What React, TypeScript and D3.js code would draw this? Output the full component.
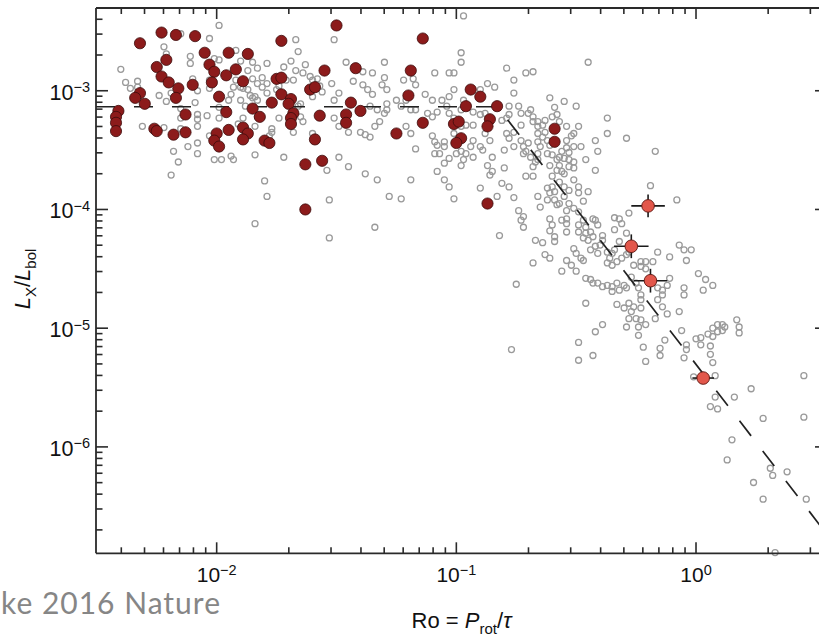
import React from 'react';
import * as d3 from 'd3';

const W = 819;
const H = 638;

// axis limits (Ro and Lx/Lbol)
const xDomain: [number, number] = [3.137e-3, 3.52];
const yDomain: [number, number] = [1.27e-7, 4.977e-3];

// ---- data: [log10 Ro, log10 (Lx/Lbol)] ----
const grayStars: [number, number][] = [
  [-1.99,-2.45],[-2.15,-2.52],[-2.22,-2.63],[-2.03,-2.56],[-2.21,-2.69],[-2.11,-2.71],[-2.11,-2.77],[-2.40,-2.82],[-2.38,-2.93],[-2.33,-2.92],
  [-2.36,-2.98],[-2.33,-2.97],[-2.21,-3.09],[-2.24,-3.04],[-2.19,-3.02],[-2.08,-3.00],[-2.09,-3.10],[-2.10,-2.90],[-2.01,-2.73],[-1.99,-2.74],
  [-1.92,-2.66],[-1.90,-2.75],[-1.85,-2.76],[-1.83,-2.81],[-1.79,-2.77],[-1.87,-2.83],[-1.92,-2.91],[-1.90,-2.97],[-1.93,-2.97],[-1.87,-2.99],
  [-1.83,-2.94],[-1.81,-2.89],[-1.81,-2.97],[-1.85,-3.06],[-1.86,-3.04],[-1.84,-3.05],[-1.90,-3.08],[-1.88,-3.13],[-1.79,-3.02],[-1.79,-2.94],
  [-1.74,-2.96],[-1.75,-2.99],[-1.69,-2.75],[-1.67,-2.57],[-1.66,-2.67],[-1.72,-2.80],[-1.68,-2.91],[-1.67,-2.83],[-1.94,-3.03],[-1.95,-3.08],
  [-2.03,-2.98],[-2.03,-2.91],[-1.99,-3.14],[-1.99,-3.23],[-2.04,-3.21],[-2.08,-3.20],[-2.08,-3.24],[-2.08,-3.30],[-2.15,-3.15],[-2.15,-3.23],
  [-2.15,-3.32],[-2.12,-3.47],[-2.18,-3.51],[-2.16,-3.60],[-2.19,-3.71],[-2.22,-3.31],[-2.31,-3.30],[-2.08,-3.44],[-2.08,-3.53],[-2.03,-3.38],
  [-2.01,-3.58],[-1.98,-3.58],[-1.94,-3.55],[-1.93,-3.58],[-1.84,-3.54],[-1.91,-3.28],[-1.89,-3.23],[-1.84,-3.30],[-1.83,-3.22],[-1.77,-3.32],
  [-1.77,-3.35],[-1.78,-3.38],[-1.72,-3.56],[-1.80,-3.76],[-1.79,-3.89],[-1.74,-3.23],[-1.68,-3.35],[-1.66,-3.13],[-1.71,-2.91],[-1.83,-3.08],
  [-1.85,-2.90],[-1.89,-2.98],[-1.84,-4.12],
  [-0.97,-2.37],[-1.51,-2.57],[-1.63,-2.78],[-1.64,-2.85],[-1.61,-2.88],[-1.60,-2.91],[-1.58,-2.90],[-1.57,-2.96],[-1.56,-3.01],[-1.60,-3.05],
  [-1.65,-3.11],[-1.64,-3.26],[-1.65,-3.22],[-1.60,-3.36],[-1.46,-2.76],[-1.43,-2.92],[-1.39,-2.95],[-1.37,-2.99],[-1.35,-3.03],[-1.39,-2.84],
  [-1.35,-2.85],[-1.30,-2.76],[-1.30,-2.89],[-1.31,-2.95],[-1.29,-2.99],[-1.52,-2.94],[-1.49,-3.02],[-1.51,-3.08],[-1.51,-3.23],[-1.49,-3.30],
  [-1.45,-3.35],[-1.40,-3.35],[-1.38,-3.37],[-1.36,-3.39],[-1.34,-3.30],[-1.32,-3.26],[-1.30,-3.19],[-1.29,-3.16],[-1.33,-3.16],[-1.36,-3.13],
  [-1.29,-3.11],[-1.49,-3.56],[-1.45,-3.64],[-1.54,-3.67],[-1.38,-3.70],[-1.33,-3.75],[-1.53,-3.92],[-1.28,-3.89],[-1.23,-3.91],[-1.19,-3.75],
  [-1.17,-3.49],[-1.25,-3.08],[-1.23,-3.13],[-1.21,-3.08],[-1.19,-3.16],[-1.17,-3.16],[-1.22,-2.91],[-1.18,-2.90],[-1.17,-2.95],[-1.13,-3.03],
  [-1.09,-2.85],[-1.03,-2.85],[-1.01,-2.85],[-0.98,-2.68],[-0.98,-2.76],[-1.10,-3.08],[-1.06,-3.08],[-1.04,-3.13],[-1.08,-3.18],[-1.10,-3.22],
  [-1.12,-3.19],[-1.21,-3.30],[-1.19,-3.36],[-1.10,-3.38],[-1.09,-3.43],[-1.08,-3.46],[-1.05,-3.43],[-1.05,-3.47],[-1.09,-3.53],[-1.07,-3.53],
  [-1.05,-3.61],[-1.03,-3.57],[-1.08,-3.68],[-1.05,-3.75],[-1.03,-3.81],[-1.01,-3.91],[-1.01,-2.99],[-1.03,-3.05],[-0.97,-3.08],[-0.98,-3.16],
  [-0.93,-3.18],[-1.03,-3.19],[-1.01,-3.23],[-0.98,-3.30],[-0.96,-3.29],[-0.93,-3.29],[-1.01,-3.36],[-0.93,-3.42],[-0.94,-3.47],[-0.98,-3.51],
  [-0.96,-3.53],[-0.97,-3.58],[-0.98,-3.63],[-1.00,-3.53],[-0.93,-3.56],[-0.90,-3.20],[-0.88,-3.19],[-0.88,-3.36],[-0.86,-3.42],[-0.90,-3.47],
  [-0.89,-3.50],[-0.85,-3.56],[-0.87,-3.63],[-0.85,-3.68],[-0.86,-3.71],[-0.81,-3.78],[-0.90,-3.82],[-0.83,-3.89],[-0.78,-3.81],[-0.87,-2.94],
  [-0.84,-2.97],[-0.90,-2.99],[-0.79,-2.81],[-0.76,-2.91],[-0.76,-3.02],[-0.78,-3.13],[-0.74,-3.13],[-0.78,-3.20],[-0.79,-3.36],[-0.76,-3.35],
  [-0.78,-3.40],[-0.73,-3.29],[-0.70,-3.19],[-0.68,-3.22],[-0.68,-3.26],[-0.71,-2.85],[-0.68,-2.84],[-0.69,-3.16],[-0.72,-3.47],[-0.71,-3.51],
  [-0.67,-3.60],[-0.62,-3.53],[-0.60,-3.54],[-0.58,-3.58],[-0.55,-3.57],[-0.61,-3.06],[-0.59,-3.14],[-0.55,-3.09],[-0.50,-3.13],[-0.54,-3.30],
  [-0.51,-3.36],[-0.54,-3.42],[-0.51,-3.47],[-0.64,-3.39],[-0.62,-3.42],[-0.66,-3.30],[-0.66,-3.36],[-0.71,-3.72],[-0.66,-3.89],[-0.62,-3.82],
  [-0.61,-3.86],[-0.62,-3.92],[-0.59,-3.85],[-0.60,-3.72],[-0.57,-3.77],[-0.55,-3.81],[-0.53,-3.84],[-0.57,-3.95],[-0.54,-4.01],[-0.51,-3.99],
  [-0.74,-4.01],[-0.72,-4.06],[-0.53,-3.64],
  [-0.45,-2.76],[-0.58,-3.20],[-0.64,-3.29],[-0.63,-3.35],[-0.49,-3.30],[-0.52,-3.38],[-0.48,-3.47],[-0.53,-3.58],[-0.51,-3.60],[-0.57,-3.63],
  [-0.37,-3.23],[-0.37,-3.36],[-0.29,-3.40],[-0.42,-3.42],[-0.41,-3.51],[-0.46,-3.58],[-0.42,-3.67],[-0.17,-3.51],[-0.51,-3.75],[-0.49,-3.81],
  [-0.45,-3.85],[-0.55,-3.89],[-0.47,-3.93],[-0.58,-3.96],[-0.19,-3.80],[-0.08,-3.92],[-0.28,-4.03],[-0.34,-4.07],[-0.32,-4.08],[-0.43,-4.08],
  [-0.54,-4.08],[-0.61,-4.08],
  [-0.54,-3.48],[-0.56,-3.51],[-0.53,-3.52],[-0.51,-3.65],[-0.57,-3.56],[-0.61,-3.63],[-0.58,-3.67],[-0.56,-3.68],[-0.55,-3.70],[-0.61,-3.46],
  [-0.65,-3.47],[-0.66,-3.53],[-0.66,-3.58],[-0.68,-3.64],[-0.68,-3.72],[-0.60,-3.81],[-0.59,-3.92],[-0.49,-3.86],[-0.53,-3.95],[-0.49,-4.02],
  [-0.65,-3.98],[-0.73,-4.09],[-0.72,-4.15],[-0.60,-4.13],[-0.56,-4.09],[-0.54,-4.12],[-0.49,-4.13],[-0.47,-4.09],[-0.42,-4.09],[-0.41,-4.13],
  [-0.76,-3.90],[-0.80,-3.65],[-0.80,-3.50],[-0.81,-3.25],[-0.73,-3.42],[-0.76,-3.47],[-0.72,-3.53],[-0.69,-3.56],[-0.73,-3.19],[-0.79,-3.23],
  [-0.66,-3.26],[-0.70,-3.44],[-0.66,-3.43],[-0.63,-3.25],[-0.60,-3.22],[-0.57,-3.26],
  [-0.46,-4.15],[-0.44,-4.19],[-0.46,-4.20],[-0.43,-4.23],[-0.47,-4.24],[-0.45,-4.26],[-0.49,-4.19],[-0.54,-4.19],[-0.39,-4.22],[-0.39,-4.26],
  [-0.40,-4.30],[-0.42,-4.31],[-0.44,-4.34],[-0.41,-4.37],[-0.37,-4.36],[-0.35,-4.37],[-0.34,-4.34],[-0.36,-4.41],[-0.37,-4.45],[-0.35,-4.47],
  [-0.33,-4.44],[-0.31,-4.41],[-0.29,-4.38],[-0.28,-4.36],[-0.51,-4.33],[-0.50,-4.37],[-0.48,-4.41],[-0.47,-4.43],[-0.52,-4.47],[-0.50,-4.52],
  [-0.56,-4.52],[-0.46,-4.58],[-0.44,-4.59],[-0.43,-4.62],[-0.41,-4.62],[-0.39,-4.65],[-0.37,-4.64],[-0.35,-4.65],[-0.33,-4.62],[-0.30,-4.64],
  [-0.29,-4.66],[-0.32,-4.68],[-0.35,-4.69],[-0.26,-4.47],[-0.23,-4.44],[-0.21,-4.44],[-0.18,-4.44],[-0.23,-4.48],[-0.21,-4.50],[-0.16,-4.36],
  [-0.27,-4.57],[-0.25,-4.62],[-0.24,-4.66],[-0.23,-4.72],[-0.23,-4.76],[-0.16,-4.66],[-0.14,-4.68],[-0.12,-4.64],[-0.11,-4.58],[-0.14,-4.72],
  [-0.16,-4.76],[-0.46,-4.79],[-0.33,-4.80],[-0.30,-4.83],[-0.28,-4.79],[-0.26,-4.82],[-0.23,-4.83],[-0.28,-4.92],[-0.25,-4.92],[-0.23,-4.93],
  [-0.21,-4.97],[-0.29,-4.99],[-0.24,-4.99],[-0.17,-4.92],[-0.12,-4.88],[-0.07,-4.86],[-0.14,-4.82],[-0.07,-4.30],[-0.05,-4.34],[-0.02,-4.34],
  [-0.11,-4.40],[-0.04,-4.43],[0.01,-4.54],[0.04,-4.59],[0.07,-4.64],[0.03,-4.68],[-0.05,-4.66],[-0.05,-4.72],[-0.39,-4.97],
  [-0.34,-4.17],[-0.31,-4.12],[-0.32,-4.27],[-0.29,-4.20],[-0.54,-4.43],
  [-0.61,-4.18],[-0.59,-4.23],[-0.64,-4.28],[-0.59,-4.27],[-0.63,-4.38],[-0.61,-4.41],[-0.67,-4.26],[-0.68,-4.45],[-0.75,-4.63],[-0.82,-4.22],
  [-0.42,-5.03],[-0.49,-5.12],[-0.43,-5.23],[-0.49,-5.27],[-0.27,-4.86],[-0.24,-5.06],[-0.22,-5.16],[-0.21,-5.28],[-0.15,-5.17],[-0.15,-5.23],
  [-0.13,-5.10],[-0.05,-5.25],[-0.04,-5.18],[0.00,-5.09],[0.02,-5.08],[0.02,-5.14],[0.05,-5.05],[0.06,-5.15],[0.07,-5.07],[0.09,-4.97],
  [0.11,-4.97],[0.12,-4.99],[0.07,-5.00],[0.09,-5.03],[0.17,-4.93],[0.18,-4.99],[0.18,-5.04],[0.06,-5.22],[0.07,-5.29],[0.08,-5.40],
  [0.23,-5.51],[0.16,-5.58],[0.08,-5.58],[0.45,-5.40],[-0.01,-5.41],[-0.04,-5.14],[-0.06,-5.02],[0.11,-5.02],[0.06,-5.66],[0.09,-5.68],
  [0.28,-5.76],[0.15,-5.94],[0.13,-6.11],[0.45,-5.75],[0.31,-6.18],[0.32,-6.24],[0.38,-6.21],[0.24,-6.30],[0.28,-6.44],[0.46,-6.44],
  [0.33,-6.89],[-1.53,-4.24],[-1.34,-4.15],[-0.77,-5.18],
];

const fullyConvective: [number, number][] = [
  [-2.32,-2.60],[-2.23,-2.51],[-2.17,-2.53],[-2.09,-2.54],[-2.05,-2.68],[-1.95,-2.68],[-1.87,-2.69],[-1.73,-2.58],[-2.21,-2.74],[-2.25,-2.80],
  [-2.23,-2.88],[-2.20,-2.93],[-2.03,-2.78],[-2.01,-2.84],[-1.96,-2.87],[-1.92,-2.82],[-2.10,-2.95],[-2.16,-2.98],[-2.17,-3.06],[-2.02,-2.93],
  [-1.89,-2.92],[-1.99,-3.05],[-2.32,-3.02],[-2.34,-3.06],[-2.30,-3.11],[-2.41,-3.17],[-2.42,-3.22],[-2.42,-3.27],[-2.42,-3.34],[-2.13,-3.20],
  [-1.96,-3.18],[-1.85,-3.15],[-1.82,-3.22],[-1.77,-3.10],[-1.75,-2.90],[-1.73,-2.89],[-1.73,-3.03],[-1.69,-3.07],[-1.70,-3.11],[-1.68,-3.19],
  [-1.69,-3.23],[-1.69,-3.28],[-2.26,-3.32],[-2.25,-3.34],[-2.18,-3.37],[-2.13,-3.35],[-2.00,-3.36],[-2.01,-3.42],[-1.99,-3.47],[-1.95,-3.33],
  [-1.89,-3.31],[-1.87,-3.36],[-1.89,-3.41],[-1.80,-3.42],[-1.78,-3.44],
  [-1.50,-2.45],[-1.14,-2.56],[-1.55,-2.83],[-1.42,-2.81],[-1.19,-2.83],[-1.61,-2.99],[-1.59,-2.97],[-1.20,-3.04],[-1.44,-3.10],[-1.40,-3.17],
  [-1.57,-3.21],[-1.46,-3.20],[-1.46,-3.27],[-1.25,-3.36],[-1.14,-3.27],[-1.59,-3.41],[-0.94,-2.99],[-0.90,-3.05],[-0.96,-3.13],[-0.83,-3.13],
  [-1.01,-3.28],[-0.99,-3.26],[-0.86,-3.24],[-0.87,-3.30],[-0.98,-3.40],[-1.00,-3.44],[-0.59,-3.32],[-0.59,-3.43],[-1.63,-3.62],[-1.56,-3.59],
  [-0.87,-3.95],[-1.63,-4.00],
];

// slowly rotating fully convective stars: [log Ro, log Lx/Lbol, err log Ro, err log Lx/Lbol]
const slowRotators: [number, number, number, number][] = [
  [-0.20, -3.97, 0.07, 0.095],
  [-0.27, -4.31, 0.072, 0.10],
  [-0.19, -4.60, 0.07, 0.10],
  [0.03, -5.42, 0.045, 0.03],
];

// saturated + unsaturated fit: [log Ro, log Lx/Lbol]
const fitLine: [number, number][] = [
  [-2.5035, -3.135],
  [-0.828, -3.135],
  [0.5465, -6.737],
];

const p10 = (v: number) => Math.pow(10, v);
const FONT = "'Liberation Sans', Arial, Helvetica, sans-serif";

export default function App() {
  const left = 96, right = 827, top = 8, bottom = 553.3;
  const x = d3.scaleLog().domain(xDomain).range([left, right]);
  const y = d3.scaleLog().domain(yDomain).range([bottom, top]);

  const isMajor = (t: number) => Math.abs(Math.log10(t) - Math.round(Math.log10(t))) < 1e-6;
  const xTicks = x.ticks();
  const yTicks = y.ticks();
  const expLabel = (t: number) => {
    const e = Math.round(Math.log10(t));
    return e < 0 ? '\u2212' + (-e) : String(e);
  };

  const line = d3.line<[number, number]>()
    .x(d => x(p10(d[0])))
    .y(d => y(p10(d[1])));

  const axisColor = '#2a2a2a';

  return (
    <svg width={W} height={H} style={{ position: 'absolute', left: 0, top: 0, background: '#fff' }}>
      <rect x={0} y={0} width={W} height={H} fill="#fff" />

      {/* grey stars */}
      <g fill="none" stroke="#9a9a9a" strokeWidth={1.3}>
        {grayStars.map((d, i) => (
          <circle key={i} cx={x(p10(d[0]))} cy={y(p10(d[1]))} r={3} />
        ))}
      </g>

      {/* fit */}
      <path d={line(fitLine) || ''} fill="none" stroke="#222" strokeWidth={1.7} strokeDasharray="19 19" />

      {/* fully convective stars */}
      <g fill="#8c1b1b" stroke="#3c0b0b" strokeWidth={0.8}>
        {fullyConvective.map((d, i) => (
          <circle key={i} cx={x(p10(d[0]))} cy={y(p10(d[1]))} r={5.6} />
        ))}
      </g>

      {/* slow rotators with error bars */}
      <g>
        {slowRotators.map((d, i) => {
          const cx = x(p10(d[0]));
          const cy = y(p10(d[1]));
          return (
            <g key={i}>
              <line x1={x(p10(d[0] - d[2]))} x2={x(p10(d[0] + d[2]))} y1={cy} y2={cy} stroke="#1a1a1a" strokeWidth={1.6} />
              <line x1={cx} x2={cx} y1={y(p10(d[1] - d[3]))} y2={y(p10(d[1] + d[3]))} stroke="#1a1a1a" strokeWidth={1.6} />
              <circle cx={cx} cy={cy} r={6.3} fill="#e2574b" stroke="#5a1510" strokeWidth={0.9} />
            </g>
          );
        })}
      </g>

      {/* frame */}
      <g stroke={axisColor} strokeWidth={1.8} fill="none">
        <line x1={left} x2={left} y1={top} y2={bottom} />
        <line x1={right} x2={right} y1={top} y2={bottom} />
        <line x1={left} x2={right} y1={top} y2={top} />
        <line x1={left} x2={right} y1={bottom} y2={bottom} />
      </g>

      {/* x ticks */}
      <g stroke={axisColor} strokeWidth={1.6}>
        {xTicks.map((t, i) => {
          const L = isMajor(t) ? 11 : 6;
          const px = x(t);
          return (
            <g key={i}>
              <line x1={px} x2={px} y1={bottom} y2={bottom - L} />
              <line x1={px} x2={px} y1={top} y2={top + L} />
            </g>
          );
        })}
      </g>
      {/* y ticks */}
      <g stroke={axisColor} strokeWidth={1.6}>
        {yTicks.map((t, i) => {
          const L = isMajor(t) ? 12 : 6.5;
          const py = y(t);
          return (
            <g key={i}>
              <line x1={left} x2={left + L} y1={py} y2={py} />
              <line x1={right} x2={right - L} y1={py} y2={py} />
            </g>
          );
        })}
      </g>

      {/* x tick labels */}
      <g fontFamily={FONT} fill="#111">
        {xTicks.filter(isMajor).map((t, i) => (
          <text key={i} x={x(t)} y={bottom + 29} textAnchor="middle" fontSize={21}>
            10<tspan dy={-7.5} fontSize={14.5}>{expLabel(t)}</tspan>
          </text>
        ))}
      </g>
      {/* y tick labels */}
      <g fontFamily={FONT} fill="#111">
        {yTicks.filter(isMajor).map((t, i) => (
          <text key={i} x={90} y={y(t) + 9} textAnchor="end" fontSize={21.5}>
            10<tspan dy={-7.5} fontSize={14.5}>{expLabel(t)}</tspan>
          </text>
        ))}
      </g>

      {/* axis titles */}
      <text x={(left + right) / 2} y={628} textAnchor="middle" fontFamily={FONT} fontSize={22} fill="#111">
        Ro = <tspan fontStyle="italic">P</tspan>
        <tspan dy={6} fontSize={15}>rot</tspan>
        <tspan dy={-6}>/</tspan>
        <tspan fontStyle="italic">τ</tspan>
      </text>
      <text transform="translate(30,279) rotate(-90)" textAnchor="middle" fontFamily={FONT} fontSize={22} fill="#111">
        <tspan fontStyle="italic">L</tspan>
        <tspan dy={6} fontSize={15}>X</tspan>
        <tspan dy={-6}>/</tspan>
        <tspan fontStyle="italic">L</tspan>
        <tspan dy={6} fontSize={15}>bol</tspan>
      </text>

      {/* caption fragment */}
      <text x={1} y={614} fontFamily="Lato, 'Open Sans', sans-serif" fontSize={30} letterSpacing={1} fill="#868686">ke 2016 Nature</text>
    </svg>
  );
}
